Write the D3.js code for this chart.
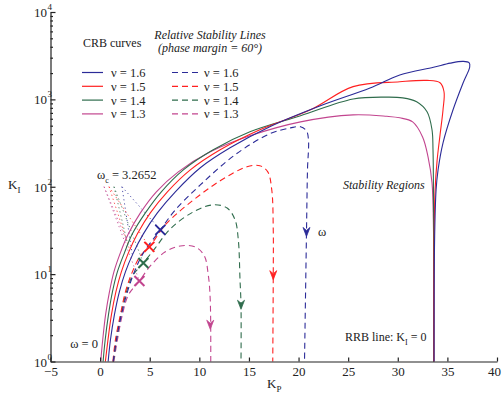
<!DOCTYPE html>
<html>
<head>
<meta charset="utf-8">
<script src="https://cdn.jsdelivr.net/npm/d3@7"></script>
<style>
body { margin: 0; background: #fff; }
text { font-family: "Liberation Serif", "Times New Roman", serif; fill: #222; }
</style>
</head>
<body>
<div id="chart"></div>
<script>
// series order: nu = 1.6, 1.5, 1.4, 1.3
var nuLabels = ["\u03bd = 1.6", "\u03bd = 1.5", "\u03bd = 1.4", "\u03bd = 1.3"];
var colors = ["#2b2b98", "#ff2020", "#2f6c4c", "#c2458f"];

// CRB curves [KP, KI]
var crb16 = [[0.81,1],[1.04,1.76],[1.44,3.41],[1.94,6.25],[2.55,10.6],[3.35,17.5],[4.36,28.9],[5.77,50.2],[7.58,87.5],[10.1,165],[13.1,279],[17.1,486],[22.2,845],[27.2,1350],[30.2,1900],[33.6,2330],[35.3,2600],[36.6,2720],[37.2,2620],[37.25,2350],[36.6,1560],[35.57,760],[34.56,318],[34.06,156],[33.86,92],[33.71,24.6],[33.66,1]];
var crb15 = [[0.53,1],[0.79,1.76],[1.14,3.41],[1.59,6.25],[2.14,10.6],[2.85,17.5],[3.76,28.9],[5.06,50.2],[6.78,87.5],[9.09,156],[12.1,265],[16.1,449],[21.2,760],[25.5,1400],[30.2,1590],[32.95,1648],[34.26,1549],[34.66,1222],[34.56,760],[34.26,393],[33.96,198],[33.76,92],[33.66,24.6],[33.64,1]];
var crb14 = [[0.3,1],[0.51,1.76],[0.84,3.41],[1.24,6.25],[1.74,10.6],[2.45,17.5],[3.25,28.9],[4.56,50.2],[6.17,87.5],[8.39,156],[11.4,265],[15.1,425],[20.2,649],[25.5,1010],[28.9,1060],[30.5,1040],[31.9,938],[32.95,721],[33.45,449],[33.55,265],[33.6,70.8],[33.62,1]];
var crb13 = [[0.06,1],[0.26,1.76],[0.55,3.41],[0.94,6.25],[1.39,10.6],[2.04,17.5],[2.85,28.9],[4.06,50.2],[5.67,87.5],[7.88,148],[11.1,251],[15.1,383],[20.2,553],[25.5,665],[28.9,640],[30.2,615],[31.5,553],[32.5,372],[33.05,220],[33.45,111],[33.6,32],[33.62,1]];

// relative stability lines (phase margin 60 deg) [KP, KI]
var rsl16 = [[1.31,1],[1.64,1.76],[2.14,3.41],[2.75,6.25],[3.45,10.6],[4.36,17.5],[6.07,32.1],[7.58,54.3],[10.1,105],[13.6,232],[17.1,404],[19.2,472],[20.2,486],[20.8,436],[21.0,344],[20.9,156],[20.8,30.4],[20.6,1]];
var rsl15 = [[1.29,1],[1.54,1.76],[2.04,3.41],[2.55,6.25],[3.25,10.6],[4.06,16.2],[4.96,20.5],[6.57,36.6],[8.79,62.1],[12.1,117],[14.8,169],[16.1,174],[16.9,148],[17.3,92],[17.45,32.1],[17.45,9.8],[17.4,1]];
var rsl14 = [[1.34,1],[1.64,1.76],[2.09,3.41],[2.65,6.25],[3.25,9.53],[4.36,13.4],[5.57,20],[7.08,33],[9.39,51.5],[11.4,62.1],[12.8,57.2],[13.6,41.8],[13.93,24.6],[14.1,8.58],[14.2,4.44],[14.2,1]];
var rsl13 = [[1.39,1],[1.74,1.76],[2.24,3.41],[2.85,5.78],[3.96,8.36],[5.06,12.4],[6.57,18],[8.08,21],[9.59,20.5],[10.5,16.2],[10.9,9.8],[11.1,5.06],[11.15,1]];

// omega_c points on the relative stability lines (crosses) and on the CRB curves
var crossPts = [[6.07,32.1],[4.96,20.5],[4.36,13.4],[3.96,8.36]];
var crbPts = [[3.25,16.6],[2.99,18.9],[2.79,21.6],[2.62,25]];
var dotStart = [[2.2,100],[0.9,100],[1.4,100],[0.4,100]];
// direction arrows (increasing omega)
var arrowPts = [[20.8,30],[17.45,9.6],[14.2,4.4],[11.1,2.6]];

var xTicks = [-5, 0, 5, 10, 15, 20, 25, 30, 35, 40];
var yMajor = [1, 10, 100, 1000, 10000];

var crbSeries = [crb16, crb15, crb14, crb13];
var rslSeries = [rsl16, rsl15, rsl14, rsl13];

var W = 502, H = 398;
var serif = "'Liberation Serif', 'Times New Roman', serif";
var x = d3.scaleLinear().domain([-5, 40]).range([50.5, 497]);
var y = d3.scaleLog().domain([1, 10000]).range([361.5, 12]);

var svg = d3.select("#chart").append("svg")
    .attr("width", W).attr("height", H)
    .attr("font-family", serif);

var line = d3.line()
    .x(function (d) { return x(d[0]); })
    .y(function (d) { return y(d[1]); })
    .curve(d3.curveCatmullRom.alpha(0.5));

// dotted guide lines from the omega_c label
colors.forEach(function (c, i) {
    [crossPts[i], crbPts[i]].forEach(function (p) {
        svg.append("line")
            .attr("x1", x(dotStart[i][0])).attr("y1", y(dotStart[i][1]))
            .attr("x2", x(p[0])).attr("y2", y(p[1]))
            .attr("stroke", c).attr("stroke-width", 1)
            .attr("stroke-dasharray", "1.2,3")
            .attr("opacity", 0.8);
    });
});

// CRB curves, drawn pink first so blue is on top
for (var i = 3; i >= 0; i--) {
    svg.append("path")
        .datum(crbSeries[i])
        .attr("d", line)
        .attr("fill", "none")
        .attr("stroke", colors[i])
        .attr("stroke-width", 1.1);
}

// relative stability lines
for (var j = 3; j >= 0; j--) {
    svg.append("path")
        .datum(rslSeries[j])
        .attr("d", line)
        .attr("fill", "none")
        .attr("stroke", colors[j])
        .attr("stroke-width", 1.1)
        .attr("stroke-dasharray", "6,4");
}

// arrows
svg.selectAll(".arrow")
    .data(arrowPts)
    .enter().append("path")
    .attr("class", "arrow")
    .attr("transform", function (d) { return "translate(" + x(d[0]) + "," + y(d[1]) + ")"; })
    .attr("d", "M0,4 L-3.5,-5 L0,-2 L3.5,-5 Z")
    .attr("fill", function (d, i) { return colors[i]; })
    .attr("stroke", function (d, i) { return colors[i]; })
    .attr("stroke-width", 0.8);

// crosses
svg.selectAll(".cross")
    .data(crossPts)
    .enter().append("path")
    .attr("class", "cross")
    .attr("transform", function (d) { return "translate(" + x(d[0]) + "," + y(d[1]) + ")"; })
    .attr("d", "M-5,-5L5,5M-5,5L5,-5")
    .attr("stroke", function (d, i) { return colors[i]; })
    .attr("stroke-width", 2);

// axes
var xAxis = svg.append("g")
    .attr("transform", "translate(0," + y(1) + ")")
    .call(d3.axisBottom(x).tickValues(xTicks).tickSizeInner(-4).tickSizeOuter(0).tickPadding(5)
        .tickFormat(function (d) { return d < 0 ? "\u2212" + (-d) : d; }));
xAxis.attr("font-family", serif);
xAxis.selectAll("text").style("font-size", "13px").attr("fill", "#222")
    .attr("dx", function (d) { return d === 40 ? -3 : 0; });

var minors = [];
for (var k = 0; k < 4; k++) {
    for (var m = 2; m <= 9; m++) minors.push(m * Math.pow(10, k));
}
svg.append("g")
    .attr("transform", "translate(" + x(-5) + ",0)")
    .call(d3.axisLeft(y).tickValues(yMajor).tickSizeInner(-5).tickSizeOuter(0).tickFormat(""));
svg.append("g")
    .attr("transform", "translate(" + x(-5) + ",0)")
    .call(d3.axisLeft(y).tickValues(minors).tickSizeInner(-2.5).tickSizeOuter(0).tickFormat(""))
    .select(".domain").remove();
svg.selectAll(".domain, .tick line").attr("stroke", "#222").attr("stroke-width", 1.2);

yMajor.forEach(function (v, i) {
    svg.append("text")
        .attr("x", 47).attr("y", y(v) + 5)
        .attr("text-anchor", "end")
        .style("font-size", "13px")
        .text("10");
    svg.append("text")
        .attr("x", 47.5).attr("y", y(v) - 2)
        .style("font-size", "9px")
        .text(i);
});

// axis titles
var xt = svg.append("text").attr("x", 267).attr("y", 388).style("font-size", "13px");
xt.append("tspan").text("K");
xt.append("tspan").attr("dy", 4).style("font-size", "9px").text("P");
var yt = svg.append("text").attr("x", 8).attr("y", 189).style("font-size", "13px");
yt.append("tspan").text("K");
yt.append("tspan").attr("dy", 4).style("font-size", "9px").text("I");

// legend
svg.append("text").attr("x", 83).attr("y", 47).style("font-size", "12px").text("CRB curves");
svg.append("text").attr("x", 210).attr("y", 39).attr("text-anchor", "middle")
    .style("font-size", "12px").style("font-style", "italic").text("Relative Stability Lines");
svg.append("text").attr("x", 210).attr("y", 52).attr("text-anchor", "middle")
    .style("font-size", "12px").style("font-style", "italic").text("(phase margin = 60\u00b0)");

nuLabels.forEach(function (lab, i) {
    var ly = 72.5 + i * 13.8;
    svg.append("line").attr("x1", 82).attr("x2", 103).attr("y1", ly).attr("y2", ly)
        .attr("stroke", colors[i]).attr("stroke-width", 1.2);
    svg.append("text").attr("x", 111).attr("y", ly + 4.5)
        .style("font-size", "12.5px").attr("fill", colors[i]).text(lab);
    svg.append("line").attr("x1", 172).attr("x2", 202).attr("y1", ly).attr("y2", ly)
        .attr("stroke", colors[i]).attr("stroke-width", 1.2).attr("stroke-dasharray", "6,4");
    svg.append("text").attr("x", 204).attr("y", ly + 4.5)
        .style("font-size", "12.5px").attr("fill", colors[i]).text(lab);
});

// annotations
var wc = svg.append("text").attr("x", 97).attr("y", 179).style("font-size", "12.5px");
wc.append("tspan").text("\u03c9");
wc.append("tspan").attr("dy", 4).style("font-size", "8px").text("c");
wc.append("tspan").attr("dy", -4).text(" = 3.2652");

svg.append("text").attr("x", 98).attr("y", 348).attr("text-anchor", "end")
    .style("font-size", "12.5px").text("\u03c9 = 0");
svg.append("text").attr("x", 318).attr("y", 236).style("font-size", "12.5px").text("\u03c9");
svg.append("text").attr("x", 343).attr("y", 189)
    .style("font-size", "12px").style("font-style", "italic").text("Stability Regions");
var rrb = svg.append("text").attr("x", 345).attr("y", 341).style("font-size", "12px");
rrb.append("tspan").text("RRB line: K");
rrb.append("tspan").attr("dy", 4).style("font-size", "8px").text("I");
rrb.append("tspan").attr("dy", -4).text(" = 0");
</script>
</body>
</html>
